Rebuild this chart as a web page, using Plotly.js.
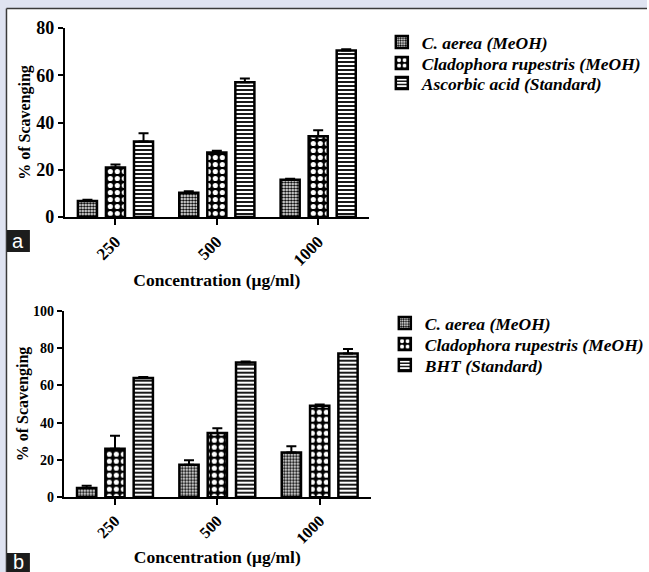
<!DOCTYPE html>
<html>
<head>
<meta charset="utf-8">
<script src="https://cdn.plot.ly/plotly-3.0.1.min.js"></script>
<style>html,body{margin:0;padding:0;background:#fff;}#chart{width:649px;height:572px;}</style>
</head>
<body>
<div id="chart"></div>
<script>
// ---- data ----
const categories = ["250", "500", "1000"];

// Panel a
const seriesA_names = ["C. aerea (MeOH)", "Cladophora rupestris (MeOH)", "Ascorbic acid (Standard)"];
const a_caerea = [6.8, 10.3, 15.8];
const a_caerea_err = [0.5, 0.6, 0.4];
const a_clado = [21.0, 27.3, 34.2];
const a_clado_err = [1.2, 0.7, 2.5];
const a_ascorbic = [32.0, 57.0, 70.5];
const a_ascorbic_err = [3.5, 1.6, 0.5];

// Panel b
const seriesB_names = ["C. aerea (MeOH)", "Cladophora rupestris (MeOH)", "BHT (Standard)"];
const b_caerea = [5.0, 17.5, 24.0];
const b_caerea_err = [1.2, 2.4, 3.4];
const b_clado = [26.0, 34.5, 49.0];
const b_clado_err = [7.0, 2.5, 0.7];
const b_bht = [64.0, 72.3, 77.0];
const b_bht_err = [0.5, 0.5, 2.5];

const yTicksA = [0, 20, 40, 60, 80];
const yTicksB = [0, 20, 40, 60, 80, 100];

// ---- styling ----
const W = 649, H = 572;
const px = v => v / W;
const py = v => 1 - v / H;

const patterns = [
  {shape: ".", size: 3, solidity: 0.5, fgcolor: "#000", bgcolor: "#fff", fillmode: "replace"},
  {shape: ".", size: 7, solidity: 0.42, fgcolor: "#fff", bgcolor: "#000", fillmode: "replace"},
  {shape: "-", size: 4, solidity: 0.45, fgcolor: "#000", bgcolor: "#fff", fillmode: "replace"}
];

function mk(name, y, err, idx, xa, ya, leg) {
  return {
    type: "bar", name: name, x: categories, y: y,
    xaxis: xa, yaxis: ya, legend: leg, showlegend: true,
    marker: {color: "#fff", line: {color: "#000", width: 2.5}, pattern: patterns[idx]},
    error_y: {type: "data", array: err, arrayminus: err.map(() => 0), symmetric: false,
              color: "#000", thickness: 2, width: 5},
    hoverinfo: "skip"
  };
}

const data = [
  mk(seriesA_names[0], a_caerea, a_caerea_err, 0, "x", "y", "legend"),
  mk(seriesA_names[1], a_clado, a_clado_err, 1, "x", "y", "legend2"),
  mk(seriesA_names[2], a_ascorbic, a_ascorbic_err, 2, "x", "y", "legend3"),
  mk(seriesB_names[0], b_caerea, b_caerea_err, 0, "x2", "y2", "legend4"),
  mk(seriesB_names[1], b_clado, b_clado_err, 1, "x2", "y2", "legend5"),
  mk(seriesB_names[2], b_bht, b_bht_err, 2, "x2", "y2", "legend6")
];

const SERIF = "Liberation Serif, Times New Roman, serif";
const f = (size, extra) => Object.assign({family: SERIF, size: size, color: "#000", weight: "bold"}, extra || {});
const legFont = f(17.5, {style: "italic"});

function xax(dom, anchor, tickSize, standoff) {
  return {domain: dom, anchor: anchor, type: "category", categoryorder: "array", categoryarray: categories,
    showline: true, linecolor: "#000", linewidth: 2, ticks: "outside", ticklen: 6, tickwidth: 2, tickcolor: "#000",
    tickangle: -45, tickfont: f(tickSize), showgrid: false, zeroline: false,
    title: {text: "Concentration (μg/ml)", font: f(17.5), standoff: standoff}};
}
function yax(dom, anchor, rng, tv, tickSize, standoff) {
  return {domain: dom, anchor: anchor, range: rng, tickvals: tv, ticktext: tv.map(String),
    showline: true, linecolor: "#000", linewidth: 2, ticks: "outside", ticklen: 5, tickwidth: 2, tickcolor: "#000",
    tickfont: f(tickSize), showgrid: false, zeroline: false,
    title: {text: "% of Scavenging", font: f(16), standoff: standoff}};
}
function leg(xPix, yPix) {
  return {x: px(xPix), y: py(yPix), xanchor: "left", yanchor: "middle", font: legFont,
          bgcolor: "rgba(0,0,0,0)", itemwidth: 30, visible: true};
}

const layout = {
  width: W, height: H,
  margin: {l: 0, r: 0, t: 0, b: 0},
  paper_bgcolor: "#fff", plot_bgcolor: "rgba(0,0,0,0)",
  showlegend: true,
  barmode: "group", bargap: 0.17, bargroupgap: 0.32,
  xaxis: xax([px(65), px(370)], "y", 17, 0),
  yaxis: yax([py(217), py(28)], "x", [0, 80], yTicksA, 18, 2),
  xaxis2: xax([px(64), px(372)], "y2", 16, 3),
  yaxis2: yax([py(497.3), py(310.7)], "x2", [0, 100], yTicksB, 14, 0),
  legend: leg(383, 42),
  legend2: leg(383, 63),
  legend3: leg(383, 83),
  legend4: leg(386, 323),
  legend5: leg(386, 344),
  legend6: leg(386, 365),
  shapes: [
    {type: "rect", xref: "paper", yref: "paper", x0: 0, x1: 1, y0: py(8), y1: 1, fillcolor: "#dfe3f1", line: {width: 0}, layer: "below"},
    {type: "rect", xref: "paper", yref: "paper", x0: 0, x1: px(6), y0: 0, y1: 1, fillcolor: "#dfe3f1", line: {width: 0}, layer: "below"},
    {type: "line", xref: "paper", yref: "paper", x0: px(6.5), x1: 1, y0: py(8.5), y1: py(8.5), line: {color: "#3a3a3a", width: 1.5}},
    {type: "line", xref: "paper", yref: "paper", x0: px(6.5), x1: px(6.5), y0: 0, y1: py(8.5), line: {color: "#3a3a3a", width: 1.5}},
    {type: "rect", xref: "paper", yref: "paper", x0: px(7), x1: px(30), y0: py(252), y1: py(230), fillcolor: "#1c1c1c", line: {width: 0}},
    {type: "rect", xref: "paper", yref: "paper", x0: px(7), x1: px(30), y0: 0, y1: py(553), fillcolor: "#1c1c1c", line: {width: 0}}
  ],
  annotations: [
    {text: "a", xref: "paper", yref: "paper", x: px(18.5), y: py(241), xanchor: "center", yanchor: "middle", showarrow: false,
     font: {family: "Liberation Sans, Arial, sans-serif", size: 20, color: "#fff"}},
    {text: "b", xref: "paper", yref: "paper", x: px(18.5), y: py(562), xanchor: "center", yanchor: "middle", showarrow: false,
     font: {family: "Liberation Sans, Arial, sans-serif", size: 20, color: "#fff"}}
  ]
};

Plotly.newPlot("chart", data, layout, {displayModeBar: false, staticPlot: true});
</script>
</body>
</html>
